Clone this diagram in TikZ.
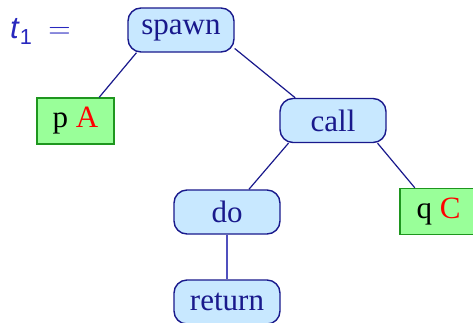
\documentclass[tikz,border=0pt]{standalone}
\usepackage{fontspec}
\setmainfont{Liberation Serif}
\setsansfont{Liberation Sans}
\newfontfamily\lmfont{Latin Modern Roman}
\definecolor{navy}{RGB}{25,25,140}
\definecolor{nodefill}{RGB}{200,232,255}
\definecolor{leaffill}{RGB}{153,255,153}
\definecolor{leafdraw}{RGB}{30,150,30}
\definecolor{tblue}{RGB}{40,40,190}
\definecolor{softedge}{RGB}{80,80,190}
\begin{document}
\begin{tikzpicture}[x=1pt,y=-1pt,
  inner/.style={draw=navy,line width=1.4pt,fill=nodefill,rounded corners=13pt,
    minimum width=106pt,minimum height=44pt,inner sep=0pt,text=navy,
    font=\fontsize{31}{31}\selectfont},
  leaf/.style={draw=leafdraw,line width=1.4pt,fill=leaffill,
    minimum width=77pt,minimum height=46pt,inner sep=0pt,
    font=\fontsize{31}{31}\selectfont},
  edge/.style={draw=navy,line width=1.2pt},
  softline/.style={draw=softedge,line width=2pt}]
\useasboundingbox (0,0) rectangle (473,322);
\node[anchor=base west,text=tblue,font=\fontsize{31}{31}\selectfont,inner sep=0pt] (lbl) at (10,38)
  {\textsf{\textit{t}}\textsubscript{\textsf{1}}\hspace{16pt}{\lmfont =}};
\node[inner] (spawn) at (181,30) {spawn};
\node[leaf] (pA) at (75.5,121) {p \textcolor{red}{A}};
\node[inner] (call) at (333,120.5) {call};
\node[inner] (do) at (227,212) {do};
\node[inner] (ret) at (227,302) {return};
\node[leaf] (qC) at (438.5,211.5) {q \textcolor{red}{C}};
\draw[edge] (spawn.207) -- (pA.45);
\draw[edge] (spawn.341) -- (call.149);
\draw[edge] (call.207) -- (do.46);
\draw[edge] (call.333) -- (qC.135);
\draw[softline] (do.south) -- (ret.north);
\end{tikzpicture}
\end{document}
